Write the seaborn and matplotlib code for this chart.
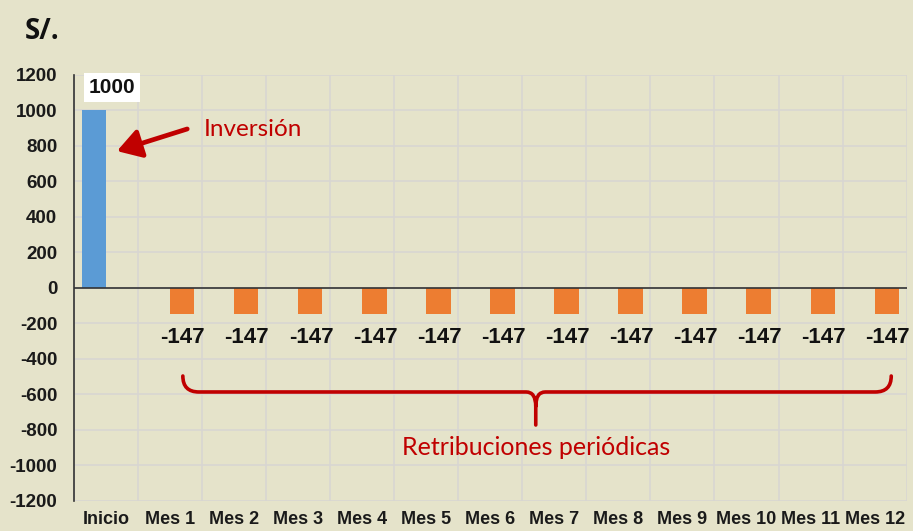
import matplotlib
matplotlib.use("Agg")
import matplotlib.pyplot as plt
import seaborn as sns
import pandas as pd
from matplotlib.path import Path
from matplotlib.patches import PathPatch, FancyArrowPatch

categories = ["Inicio"] + [f"Mes {i}" for i in range(1, 13)]
series = ["Inversión"] + ["Retribución"] * 12
values = [1000] + [-147] * 12
yticks = list(range(-1200, 1201, 200))

BG = "#E5E3CA"
sns.set_theme(style="white")
plt.rcParams["font.family"] = ["Liberation Sans", "DejaVu Sans"]

df = pd.DataFrame({"cat": categories, "serie": series, "valor": values})

fig = plt.figure(figsize=(9.13, 5.31), dpi=100, facecolor=BG)
ax = fig.add_axes([0.081, 0.0565, 0.912, 0.8025])
ax.set_facecolor(BG)

sns.barplot(data=df, x="cat", y="valor", hue="serie", order=categories,
            palette={"Inversión": "#5B9BD5", "Retribución": "#ED7D31"},
            dodge=True, width=0.76, ax=ax, legend=False, saturation=1, linewidth=0)

ax.set_ylim(-1200, 1200)
ax.set_xlim(-0.5, len(categories) - 0.5)
ax.set_yticks(yticks)
ax.set_yticklabels([str(t) for t in yticks], fontsize=13.5, fontweight="bold", color="#1a1a1a")
ax.set_xticklabels(categories, fontsize=13, fontweight="bold", color="#1a1a1a")
ax.set_xlabel("")
ax.set_ylabel("")
ax.set_xticks([i + 0.5 for i in range(-1, len(categories))], minor=True)
ax.grid(True, which="major", axis="y", color="#D8D6D2", lw=1.2)
ax.grid(True, which="minor", axis="x", color="#D8D6D2", lw=1.2)
ax.grid(False, which="major", axis="x")
ax.tick_params(axis="y", which="both", length=0, pad=12)
ax.tick_params(axis="x", which="both", length=0, pad=7)
for s in ["top", "right", "bottom"]:
    ax.spines[s].set_visible(False)
ax.spines["left"].set_color("#333333")
ax.spines["left"].set_linewidth(1.2)
ax.axhline(0, color="#333333", lw=1.2, zorder=3)
ax.set_axisbelow(True)

# value labels
for i, v in enumerate(values):
    if v > 0:
        ax.text(i + 0.1, v + 130, f"{v}", ha="center", va="center", fontsize=15,
                fontweight="bold", color="#111111",
                bbox=dict(facecolor="white", edgecolor="none", pad=3.5))
    else:
        ax.text(i + 0.2, v - 130, f"{v}", ha="center", va="center", fontsize=16,
                fontweight="bold", color="#111111")

RED = "#C00000"
# arrow for Inversión
ax.add_patch(FancyArrowPatch((1.31, 900), (0.13, 766), arrowstyle="-|>,head_length=9,head_width=5.5",
                             mutation_scale=1.6, color=RED, lw=3.4, zorder=5))
ax.text(1.52, 890, "Inversión", fontsize=17.5, color=RED, family=["Lato", "DejaVu Sans"],
        ha="left", va="center")

# brace
xl, xr, xm = 1.2, 12.26, 6.71
ytop, ybar, ytip = -496, -586, -772
verts = [(xl, ytop), (xl, ybar), (xl + 0.25, ybar),
         (xm - 0.15, ybar), (xm, ybar), (xm, ybar - 80),
         (xm, ytip),
         (xm, ybar - 80), (xm, ybar), (xm + 0.15, ybar),
         (xr - 0.25, ybar), (xr, ybar), (xr, ytop)]
codes = [Path.MOVETO, Path.CURVE3, Path.CURVE3,
         Path.LINETO, Path.CURVE3, Path.CURVE3,
         Path.LINETO,
         Path.MOVETO, Path.CURVE3, Path.CURVE3,
         Path.LINETO, Path.CURVE3, Path.CURVE3]
ax.add_patch(PathPatch(Path(verts, codes), facecolor="none", edgecolor=RED, lw=2.6, zorder=5,
                       capstyle="round"))
ax.text(xm, -900, "Retribuciones periódicas", fontsize=18, color=RED,
        family=["Lato", "DejaVu Sans"], ha="center", va="center")

fig.text(0.027, 0.94, "S/.", fontsize=20, fontweight="bold", color="#111111",
         family=["Open Sans", "DejaVu Sans"], ha="left", va="center")

fig.savefig("out.png", dpi=100, facecolor=BG)
